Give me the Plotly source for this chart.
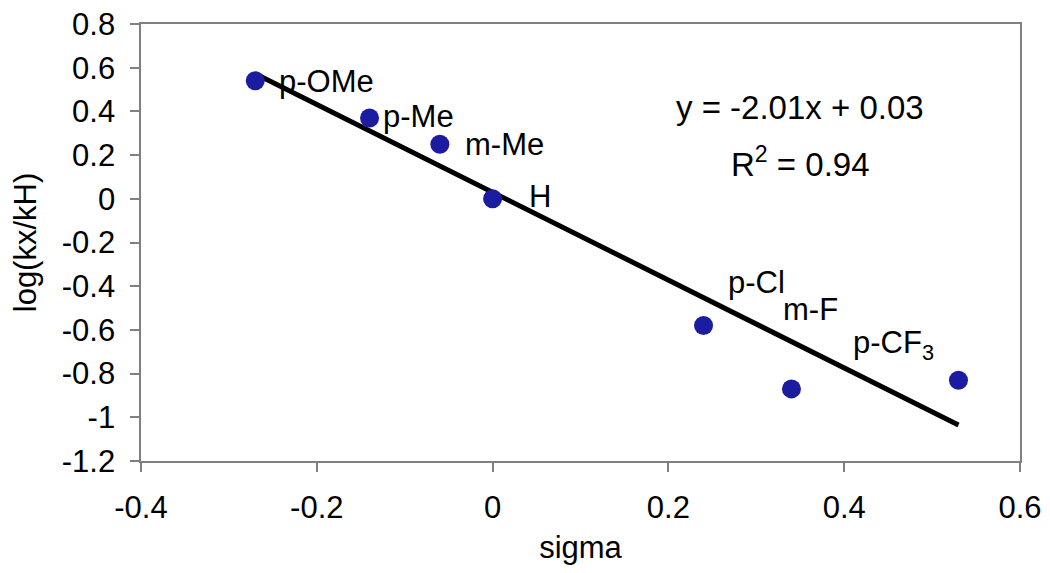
import plotly.graph_objects as go

sigma = [-0.27, -0.14, -0.06, 0.0, 0.24, 0.34, 0.53]
logk = [0.54, 0.37, 0.25, 0.0, -0.58, -0.87, -0.83]
names = ["p-OMe", "p-Me", "m-Me", "H", "p-Cl", "m-F", "p-CF<sub>3</sub>"]
label_x = [-0.245, -0.127, -0.034, 0.039, 0.266, 0.328, 0.408]
label_y = [0.535, 0.375, 0.247, 0.009, -0.383, -0.507, -0.667]
x_ticks = [-0.4, -0.2, 0, 0.2, 0.4, 0.6]
x_ticktext = ["-0.4", "-0.2", "0", "0.2", "0.4", "0.6"]
y_ticks = [-1.2, -1, -0.8, -0.6, -0.4, -0.2, 0, 0.2, 0.4, 0.6, 0.8]
y_ticktext = ["-1.2", "-1", "-0.8", "-0.6", "-0.4", "-0.2", "0", "0.2", "0.4", "0.6", "0.8"]
slope, intercept = -2.01, 0.03
fit_x = [min(sigma), max(sigma)]
fit_y = [slope * v + intercept for v in fit_x]

FS = 31

fig = go.Figure()
fig.add_trace(go.Scatter(x=fit_x, y=fit_y, mode="lines",
                         line=dict(color="black", width=5), showlegend=False))
fig.add_trace(go.Scatter(x=sigma, y=logk, mode="markers",
                         marker=dict(color="#1c1ca0", size=19), showlegend=False))

for t, lx, ly in zip(names, label_x, label_y):
    fig.add_annotation(x=lx, y=ly, text=t, showarrow=False, xanchor="left",
                       yanchor="middle", font=dict(size=FS, color="black"))

fig.add_annotation(x=0.35, y=0.42, text="y = -2.01x + 0.03", showarrow=False,
                   font=dict(size=33, color="black"))
fig.add_annotation(x=0.35, y=0.17, text="R<sup>2</sup> = 0.94", showarrow=False,
                   font=dict(size=33, color="black"))

axis_common = dict(showline=True, linecolor="#808080", linewidth=2, mirror=True,
                   ticks="outside", tickcolor="#808080", ticklen=9, tickwidth=2,
                   showgrid=False, zeroline=False, ticklabeloverflow="allow",
                   automargin=False,
                   tickfont=dict(size=FS, color="black"))

fig.update_layout(
    width=1050, height=573,
    margin=dict(l=133, r=38, t=16, b=120),
    paper_bgcolor="white", plot_bgcolor="white",
    font=dict(family="Liberation Sans, Arial, sans-serif", color="black"),
    xaxis=dict(range=[-0.4, 0.6], tickvals=x_ticks, ticktext=x_ticktext,
               ticklabelstandoff=9,
               title=dict(text="sigma", font=dict(size=FS), standoff=12), **axis_common),
    yaxis=dict(range=[-1.2, 0.8], tickvals=y_ticks,
               ticktext=[t + "\u00a0" for t in y_ticktext],
               title=dict(text="log(kx/kH)", font=dict(size=FS), standoff=16), **axis_common),
)

fig.write_html("out.html")
